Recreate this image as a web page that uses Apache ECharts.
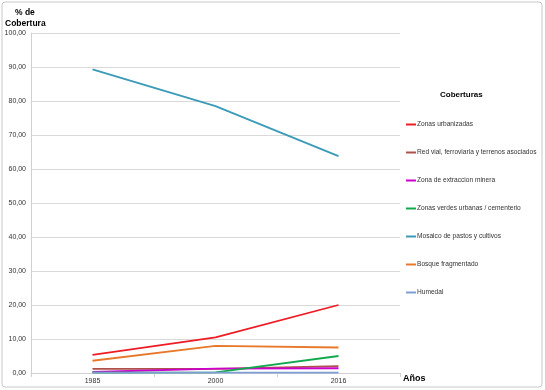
<!DOCTYPE html>
<html><head><meta charset="utf-8">
<script src="https://cdn.jsdelivr.net/npm/echarts@6/dist/echarts.min.js"></script>
<style>html,body{margin:0;padding:0;background:#fff}#c{width:545px;height:390px}</style>
</head><body><div id="c"></div>
<script>
const years = ['1985','2000','2016'];
const seriesNames = ['Zonas urbanizadas','Red vial, ferroviaria y terrenos asociados','Zona de extraccion minera','Zonas verdes urbanas / cementerio','Mosaico de pastos y cultivos','Bosque fragmentado','Humedal'];
const zonasUrbanizadas = [5.3, 10.5, 20.0];
const redVial = [1.2, 1.2, 2.0];
const zonaMinera = [0.3, 1.3, 1.4];
const zonasVerdes = [0.1, 0.2, 5.0];
const mosaico = [89.3, 78.5, 63.8];
const bosque = [3.6, 8.0, 7.5];
const humedal = [0.1, 0.1, 0.1];
const colors = ['#ee1c24','#b0504a','#cc00cc','#12a84e','#3a9ab8','#e8782a','#7f9fd4'];
const allData = [zonasUrbanizadas, redVial, zonaMinera, zonasVerdes, mosaico, bosque, humedal];
const F = 'Liberation Sans, Arial, sans-serif';
const chart = echarts.init(document.getElementById('c'), null, {renderer:'canvas'});
chart.setOption({
  animation:false,
  color: colors,
  textStyle:{fontFamily:F},
  grid:{left:31, right:145, top:33, bottom:17, containLabel:false},
  graphic:[
    {type:'rect', shape:{x:2,y:2,width:540,height:385,r:3}, style:{fill:'none',stroke:'#c8c8c8',lineWidth:1}},
    {type:'text', left:15, top:8, style:{text:'% de', fontFamily:F, fontSize:8.5, fontWeight:'bold', fill:'#000'}},
    {type:'text', left:5, top:19, style:{text:'Cobertura', fontFamily:F, fontSize:8.5, fontWeight:'bold', fill:'#000'}},
    {type:'text', left:403, top:374, style:{text:'Años', fontFamily:F, fontSize:9, fontWeight:'bold', fill:'#000'}},
    {type:'text', left:440, top:91, style:{text:'Coberturas', fontFamily:F, fontSize:8, fontWeight:'bold', fill:'#000'}}
  ],
  legend:{
    orient:'vertical', left:406, top:121, padding:0, itemGap:21, itemWidth:10, itemHeight:2,
    icon:'rect', selectedMode:false,
    textStyle:{fontFamily:F, fontSize:6.6, color:'#333', padding:[0,0,0,-4]},
    data: seriesNames
  },
  xAxis:{
    type:'category', data:years, boundaryGap:true,
    axisLine:{show:true, lineStyle:{color:'#d0d0d0', width:1}},
    axisTick:{show:true, length:4, lineStyle:{color:'#d0d0d0'}},
    axisLabel:{fontFamily:F, fontSize:7, color:'#333', margin:5}
  },
  yAxis:{
    type:'value', min:0, max:100, interval:10,
    axisLine:{show:true, lineStyle:{color:'#d0d0d0', width:1}},
    axisTick:{show:false},
    splitLine:{lineStyle:{color:'#d9d9d9', width:1}},
    axisLabel:{fontFamily:F, fontSize:7, color:'#333', margin:5,
      formatter: v => v.toFixed(2).replace('.', ',')}
  },
  series: seriesNames.map((n,i)=>({
    name:n, type:'line', data:allData[i], symbol:'none',
    lineStyle:{width:1.8, color:colors[i]}, itemStyle:{color:colors[i]}
  }))
});
</script></body></html>
